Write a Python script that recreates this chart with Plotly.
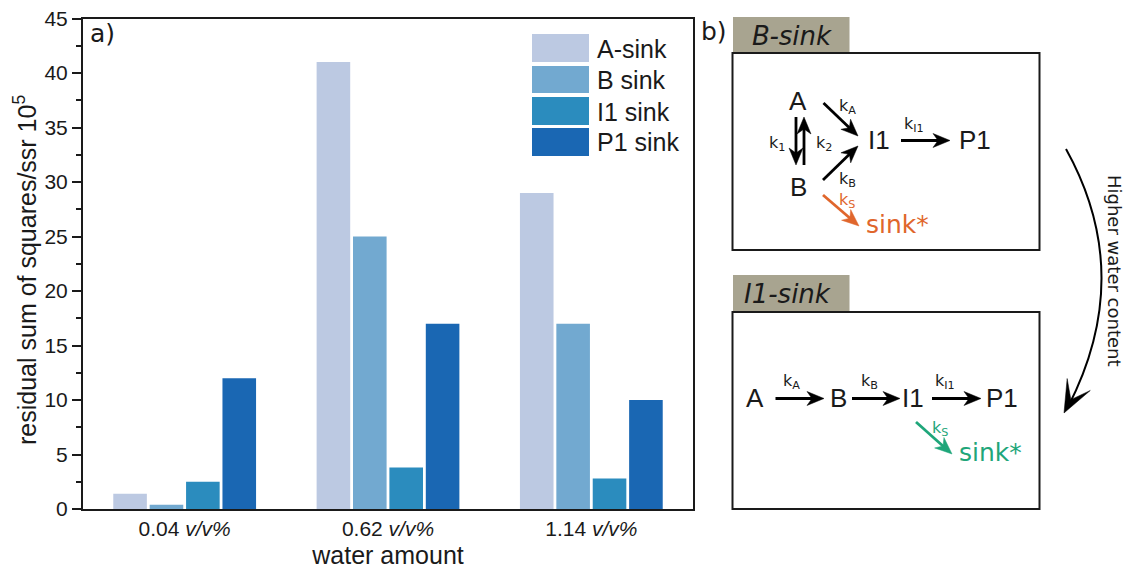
import math
import plotly.graph_objects as go

W, H = 1124, 569

categories = ["0.04 <i>v/v%</i>", "0.62 <i>v/v%</i>", "1.14 <i>v/v%</i>"]
series_names = ["A-sink", "B sink", "I1 sink", "P1 sink"]
a_sink = [1.4, 41, 29]
b_sink = [0.4, 25, 17]
i1_sink = [2.5, 3.8, 2.8]
p1_sink = [12, 17, 10]
series_values = [a_sink, b_sink, i1_sink, p1_sink]
series_colors = ["#bcc9e2", "#72a9d0", "#2b8cbe", "#1a67b3"]
y_ticks = [0, 5, 10, 15, 20, 25, 30, 35, 40, 45]

ARIAL = "Liberation Sans, Arial, sans-serif"
DEJA = "DejaVu Sans, Verdana, sans-serif"
INK = "#1a1a1a"
ORANGE = "#e0662c"
GREEN = "#1fa67a"
TAB = "#a8a490"


def px(x):
    return x / W


def py(y):
    return 1 - y / H


fig = go.Figure()
for name, vals, col in zip(series_names, series_values, series_colors):
    fig.add_trace(go.Bar(x=categories, y=vals, name=name, marker_color=col,
                         marker_line_width=0, showlegend=False))

shapes = []
annotations = []


def text(x, y, s, size, color=INK, family=DEJA, angle=0, xanchor="center"):
    annotations.append(dict(x=px(x), y=py(y), xref="paper", yref="paper", text=s,
                            showarrow=False, xanchor=xanchor, yanchor="middle",
                            textangle=angle, font=dict(size=size, color=color, family=family)))


def rect(x0, y0, x1, y1, fill="rgba(0,0,0,0)", line=None, width=0):
    shapes.append(dict(type="rect", xref="paper", yref="paper",
                       x0=px(x0), y0=py(y0), x1=px(x1), y1=py(y1),
                       fillcolor=fill, line=dict(color=line or fill, width=width)))


def head(x1, y1, ux, uy, color, length=17, half=7, notch=5):
    nx, ny = -uy, ux
    pts = [(x1, y1),
           (x1 - length * ux + half * nx, y1 - length * uy + half * ny),
           (x1 - (length - notch) * ux, y1 - (length - notch) * uy),
           (x1 - length * ux - half * nx, y1 - length * uy - half * ny)]
    d = "M" + " L".join(f"{px(a):.5f},{py(b):.5f}" for a, b in pts) + " Z"
    shapes.append(dict(type="path", xref="paper", yref="paper", path=d,
                       fillcolor=color, line=dict(color=color, width=0.5)))


def arrow(x0, y0, x1, y1, color="#000000", width=2.8, **kw):
    d = math.hypot(x1 - x0, y1 - y0)
    ux, uy = (x1 - x0) / d, (y1 - y0) / d
    shapes.append(dict(type="line", xref="paper", yref="paper",
                       x0=px(x0), y0=py(y0), x1=px(x1 - 8 * ux), y1=py(y1 - 8 * uy),
                       line=dict(color=color, width=width)))
    head(x1, y1, ux, uy, color, **kw)


# legend
legend_rows = [(34, 62, 49), (66, 93, 80), (97, 125, 112), (128, 156, 142)]
for name, col, (y0, y1, yc) in zip(series_names, series_colors, legend_rows):
    rect(532, y0, 589, y1, fill=col)
    text(595, yc, name, 25, family=ARIAL, xanchor="left")

text(102, 33, "a)", 25)
text(714, 31, "b)", 25)
text(25, 270, "residual sum of squares/ssr 10<sup>5</sup>", 25, family=ARIAL, angle=-90)

# panel B-sink
rect(733, 17, 849.5, 53, fill=TAB)
text(792, 36, "<i>B-sink</i>", 26)
rect(732.5, 53, 1039.5, 250, line="#1a1a1a", width=2)
text(798, 101, "A", 26, family=ARIAL)
text(798, 187, "B", 26, family=ARIAL)
text(879, 140, "I1", 26, family=ARIAL)
text(975, 140, "P1", 26, family=ARIAL)
arrow(796, 117, 796, 165)
arrow(804, 165, 804, 117)
arrow(823.5, 103, 858, 136)
arrow(823, 180, 858, 146)
arrow(901, 140.5, 950, 140.5)
arrow(823, 195, 859, 226, color=ORANGE)
text(897, 225, "sink*", 25, color=ORANGE)
text(847, 107, "k<sub>A</sub>", 16)
text(914, 125, "k<sub>I1</sub>", 16)
text(777, 143, "k<sub>1</sub>", 16)
text(824, 143, "k<sub>2</sub>", 16)
text(847, 180, "k<sub>B</sub>", 16)
text(847, 200, "k<sub>S</sub>", 16, color=ORANGE)

# panel I1-sink
rect(733, 275, 849.5, 312, fill=TAB)
text(787, 294, "<i>I1-sink</i>", 26)
rect(732.5, 312, 1039.5, 509, line="#1a1a1a", width=2)
text(755, 398, "A", 26, family=ARIAL)
text(838, 398, "B", 26, family=ARIAL)
text(913, 398, "I1", 26, family=ARIAL)
text(1002, 398, "P1", 26, family=ARIAL)
arrow(775.5, 398.5, 824, 398.5)
arrow(852, 398.5, 900, 398.5)
arrow(932, 398.5, 981, 398.5)
arrow(916, 422, 952, 454, color=GREEN)
text(990, 452, "sink*", 25, color=GREEN)
text(791, 381, "k<sub>A</sub>", 16)
text(869, 381, "k<sub>B</sub>", 16)
text(945, 381, "k<sub>I1</sub>", 16)
text(940, 428, "k<sub>S</sub>", 16, color=GREEN)

# curved arrow
P0, C, P1 = (1066, 149), (1136, 275), (1068, 407)
shapes.append(dict(type="path", xref="paper", yref="paper",
                   path=f"M{px(P0[0]):.5f},{py(P0[1]):.5f} Q{px(C[0]):.5f},{py(C[1]):.5f} {px(P1[0]):.5f},{py(P1[1]):.5f}",
                   line=dict(color="#000000", width=2)))
head(1064, 413, -0.46, 0.89, "#000000", length=32, half=13, notch=17)
text(1115, 271, "Higher water content", 18, angle=90)

fig.update_layout(
    width=W, height=H, autosize=False,
    margin=dict(l=0, r=0, t=0, b=0),
    paper_bgcolor="white", plot_bgcolor="white",
    barmode="group", bargap=0.284, bargroupgap=0.077,
    shapes=shapes, annotations=annotations,
    xaxis=dict(domain=[px(83), px(693)], range=[-0.5, 2.5], type="category", automargin=False,
               tickfont=dict(size=21, family=ARIAL, color=INK), ticks="",
               showline=True, linecolor=INK, linewidth=2, mirror=True, showgrid=False,
               title=dict(text="water amount", font=dict(size=25, family=ARIAL, color=INK))),
    yaxis=dict(domain=[py(509), py(18.5)], range=[0, 45], tickvals=y_ticks, automargin=False,
               tickfont=dict(size=21, family=ARIAL, color=INK), ticks="outside", ticklen=9,
               tickwidth=1.5, tickcolor=INK,
               minor=dict(dtick=2.5, ticks="outside", ticklen=5, tickwidth=1.5, tickcolor=INK, showgrid=False),
               showline=True, linecolor=INK, linewidth=2, mirror=True, showgrid=False, zeroline=False),
)

fig.write_html("out.html", config={"displayModeBar": False},
               post_script="document.body.style.margin='0';")
